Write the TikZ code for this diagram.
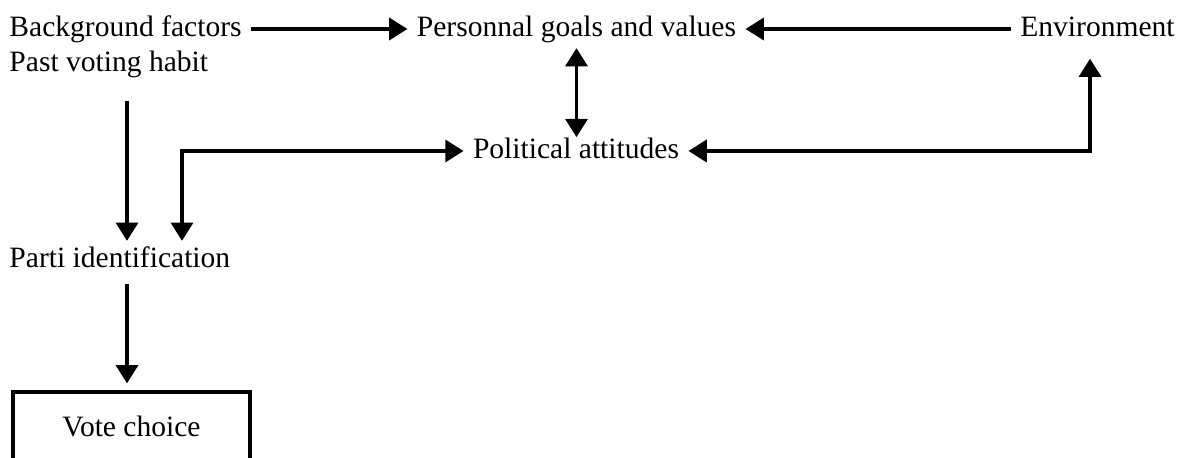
\documentclass[tikz,border=0pt]{standalone}
\usepackage{fontspec}
\setmainfont{Liberation Serif}
\usetikzlibrary{arrows.meta}

\begin{document}
\begin{tikzpicture}[x=0.01cm, y=-0.01cm]
	\tikzset{factor/.style = {font=\fontsize{8.4}{10}\selectfont, inner xsep=2.5pt, inner ysep=1pt, text height=6.5pt, text depth=2pt},
		tip/.style = {line width=0.9pt, >={Triangle[length=5.2pt, width=6.3pt]}}}

	\useasboundingbox (0,0) rectangle (1179,458);

	\node[factor, anchor=west] (bg) at (0,29) {Background factors};
	\node[factor, anchor=west] (past) at (0,64) {Past voting habit};
	\node[factor] (goals) at (576.5,29) {Personnal goals and values};
	\node[factor] (env) at (1097.5,29) {Environment};
	\node[factor] (polit) at (576,151) {Political attitudes};
	\node[factor, anchor=west] (parti) at (0,260) {Parti identification};
	\node[factor, draw, line width=0.9pt, minimum width=2.37cm, minimum height=0.74cm] (vote) at (131.5,429) {Vote choice};

	\coordinate (spine) at (127,0);
	\coordinate (side) at (182,0);
	\coordinate (envx) at (1090,0);

	\draw[tip, ->] (bg.east) -- (goals.west);
	\draw[tip, ->] (env.west) -- (goals.east);
	\draw[tip, <->, shorten >=-1.5pt] (goals.south) -- (goals.south |- polit.north);

	\draw[tip, ->, shorten <=5pt] (past.south -| spine) -- (parti.north -| spine);
	\draw[tip, <->] (parti.north -| side) |- (polit.west);
	\draw[tip, <->, shorten >=3pt] (polit.east) -| (env.south -| envx);

	\draw[tip, ->, shorten <=1.5pt, shorten >=2pt] (parti.south -| spine) -- (vote.north -| spine);

\end{tikzpicture}
\end{document}
